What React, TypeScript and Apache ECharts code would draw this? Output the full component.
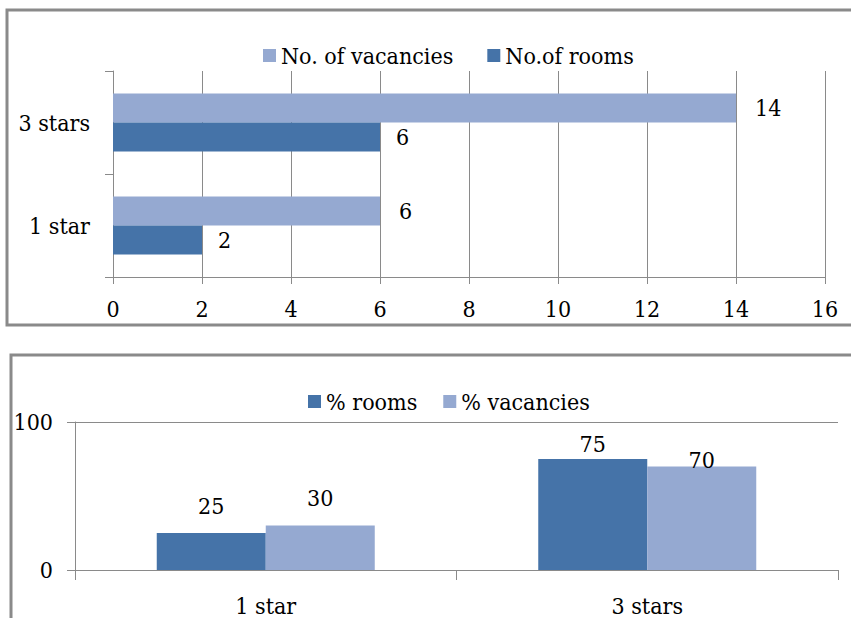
import React, { useEffect, useRef } from "react";
import * as echarts from "echarts";

// Top chart data
const hotelCategories = ["1 star", "3 stars"];
const vacancies = [6, 14];
const rooms = [2, 6];
const xTickMax = 16;
const xTickStep = 2;

// Bottom chart data
const pctCategories = ["1 star", "3 stars"];
const pctRooms = [25, 75];
const pctVacancies = [30, 70];

const FONT = "DejaVu Serif Condensed, DejaVu Serif";
const LIGHT = "#95A9D1";
const DARK = "#4573A8";
const GRAY = "#8a8a8a";
const FS = 23;

// label placement tweaks (style only)
const roomsLabelDist = [16, 4];
const vacLabelDist = [16, -5];

export default function App() {
  const ref = useRef<HTMLDivElement>(null);
  useEffect(() => {
    if (!ref.current) return;
    const chart = echarts.init(ref.current, undefined, { renderer: "svg" });
    const txt = (size: number) => ({
      fontFamily: FONT,
      fontSize: size,
      lineHeight: size,
      color: "#000",
    });
    const option: any = {
      animation: false,
      backgroundColor: "#ffffff",
      textStyle: { fontFamily: FONT, color: "#000" },
      graphic: [
        {
          type: "rect",
          shape: { x: 7, y: 10, width: 900, height: 315 },
          style: { fill: "none", stroke: GRAY, lineWidth: 3 },
          z: 0,
        },
        {
          type: "rect",
          shape: { x: 11, y: 355, width: 900, height: 300 },
          style: { fill: "none", stroke: GRAY, lineWidth: 3 },
          z: 0,
        },
      ],
      legend: [
        {
          left: 258,
          top: 39,
          itemWidth: 13,
          itemHeight: 13,
          itemGap: 34,
          icon: "rect",
          data: ["No. of vacancies", "No.of rooms"],
          textStyle: txt(FS),
        },
        {
          left: 303,
          top: 385,
          itemWidth: 13,
          itemHeight: 13,
          itemGap: 26,
          icon: "rect",
          data: ["% rooms", "% vacancies"],
          textStyle: txt(FS),
        },
      ],
      grid: [
        { left: 113, top: 71, width: 712, height: 206 },
        { left: 75, top: 422, width: 763, height: 148 },
      ],
      xAxis: [
        {
          gridIndex: 0,
          type: "value",
          min: 0,
          max: xTickMax,
          interval: xTickStep,
          axisLine: { show: true, lineStyle: { color: GRAY, width: 1 } },
          axisTick: { show: true, length: 7, lineStyle: { color: GRAY } },
          splitLine: { show: true, lineStyle: { color: GRAY, width: 1 } },
          axisLabel: { ...txt(FS), margin: 20 },
        },
        {
          gridIndex: 1,
          type: "category",
          data: pctCategories,
          axisLine: { show: true, lineStyle: { color: GRAY, width: 1 } },
          axisTick: { show: true, length: 10, lineStyle: { color: GRAY } },
          axisLabel: { ...txt(FS), margin: 24 },
        },
      ],
      yAxis: [
        {
          gridIndex: 0,
          type: "category",
          data: hotelCategories,
          axisLine: { show: true, lineStyle: { color: GRAY, width: 1 } },
          axisTick: { show: true, length: 8, lineStyle: { color: GRAY } },
          axisLabel: { ...txt(FS), margin: 23 },
        },
        {
          gridIndex: 1,
          type: "value",
          min: 0,
          max: 100,
          interval: 100,
          axisLine: { show: true, lineStyle: { color: GRAY, width: 1 } },
          axisTick: { show: true, length: 8, lineStyle: { color: GRAY } },
          splitLine: { show: true, lineStyle: { color: GRAY, width: 1 } },
          axisLabel: { ...txt(FS), margin: 22 },
        },
      ],
      series: [
        {
          name: "No. of vacancies",
          type: "bar",
          xAxisIndex: 0,
          yAxisIndex: 0,
          data: vacancies,
          barWidth: 29,
          barGap: "0%",
          itemStyle: { color: LIGHT },
          label: { show: true, position: "right", distance: 19, ...txt(FS) },
        },
        {
          name: "No.of rooms",
          type: "bar",
          xAxisIndex: 0,
          yAxisIndex: 0,
          data: rooms,
          barWidth: 29,
          barGap: "0%",
          itemStyle: { color: DARK },
          label: { show: true, position: "right", distance: 16, ...txt(FS) },
        },
        {
          name: "% rooms",
          type: "bar",
          xAxisIndex: 1,
          yAxisIndex: 1,
          barWidth: 109,
          barGap: "0%",
          itemStyle: { color: DARK },
          data: pctRooms.map((v, i) => ({
            value: v,
            label: { distance: roomsLabelDist[i] },
          })),
          label: { show: true, position: "top", ...txt(FS) },
        },
        {
          name: "% vacancies",
          type: "bar",
          xAxisIndex: 1,
          yAxisIndex: 1,
          barWidth: 109,
          barGap: "0%",
          itemStyle: { color: LIGHT },
          data: pctVacancies.map((v, i) => ({
            value: v,
            label: { distance: vacLabelDist[i] },
          })),
          label: { show: true, position: "top", ...txt(FS) },
        },
      ],
    };
    chart.setOption(option);
    return () => chart.dispose();
  }, []);
  return (
    <div
      ref={ref}
      style={{ position: "absolute", left: 0, top: 0, width: 851, height: 618 }}
    />
  );
}
